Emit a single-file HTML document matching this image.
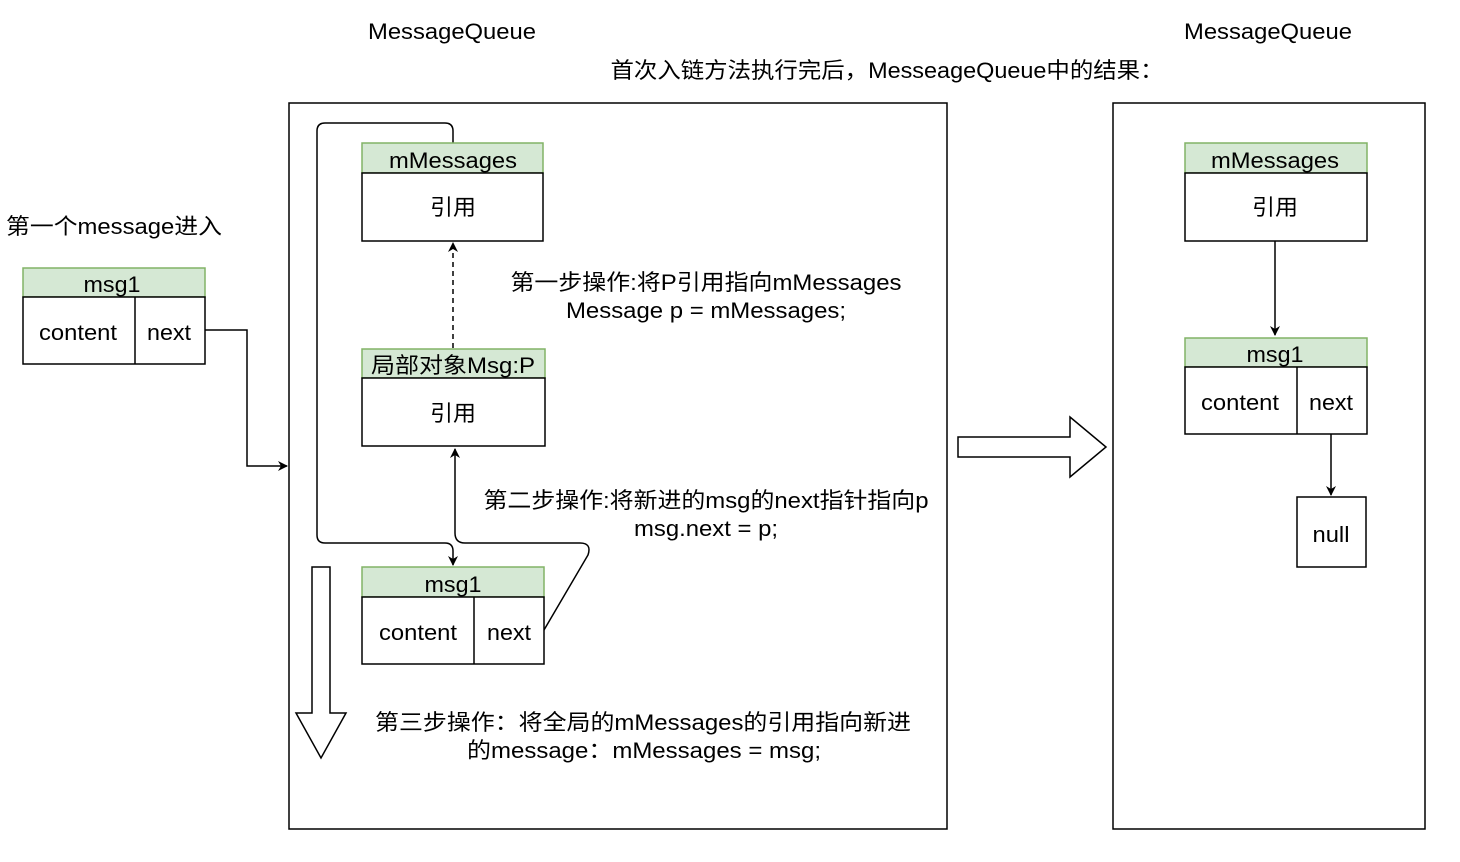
<!DOCTYPE html>
<html><head><meta charset="utf-8"><style>
html,body{margin:0;padding:0;background:#fff;}
svg{display:block;}
text{font-family:"Liberation Sans","Noto Sans CJK SC",sans-serif;font-size:22px;fill:#000;}
</style></head><body>
<svg width="1460" height="862" viewBox="0 0 1460 862" xmlns="http://www.w3.org/2000/svg">
<defs>
<marker id="ah" markerWidth="10" markerHeight="10" refX="9" refY="5" orient="auto" markerUnits="userSpaceOnUse">
<path d="M0,0 L10,5 L0,10 L3,5 Z" fill="#000"/>
</marker>
</defs>
<g text-anchor="middle" lengthAdjust="spacingAndGlyphs">
<text x="452" y="39" textLength="168" lengthAdjust="spacingAndGlyphs">MessageQueue</text>
<text x="1268" y="39" textLength="168" lengthAdjust="spacingAndGlyphs">MessageQueue</text>
<text x="887" y="78" textLength="553" lengthAdjust="spacingAndGlyphs">首次入链方法执行完后，MesseageQueue中的结果：</text>
</g>
<rect x="289" y="103" width="658" height="726" fill="none" stroke="#000" stroke-width="1.5"/>
<rect x="1113" y="103" width="312" height="726" fill="none" stroke="#000" stroke-width="1.5"/>

<text x="6" y="234" textLength="216" lengthAdjust="spacingAndGlyphs">第一个message进入</text>
<!-- left msg1 -->
<rect x="23" y="268" width="182" height="29" fill="#d5e8d4" stroke="#82b366" stroke-width="1.5"/>
<rect x="23" y="297" width="182" height="67" fill="#fff" stroke="#000" stroke-width="1.5"/>
<line x1="135" y1="297" x2="135" y2="364" stroke="#000" stroke-width="1.5"/>
<g text-anchor="middle">
<text x="112" y="292" textLength="57" lengthAdjust="spacingAndGlyphs">msg1</text>
<text x="78" y="340" textLength="78" lengthAdjust="spacingAndGlyphs">content</text>
<text x="169" y="340" textLength="44" lengthAdjust="spacingAndGlyphs">next</text>
</g>
<path d="M205,330 L247,330 L247,466 L287,466" fill="none" stroke="#000" stroke-width="1.5" marker-end="url(#ah)"/>

<path d="M453,143 L453,131 Q453,123 445,123 L325,123 Q317,123 317,131 L317,535 Q317,543 325,543 L445,543 Q453,543 453,551 L453,565" fill="none" stroke="#000" stroke-width="1.5" marker-end="url(#ah)"/>
<path d="M544,630 L588,555 Q592,543 580,543 L465,543 Q455,543 455,533 L455,449" fill="none" stroke="#000" stroke-width="1.5" marker-end="url(#ah)"/>

<rect x="362" y="143" width="181" height="30" fill="#d5e8d4" stroke="#82b366" stroke-width="1.5"/>
<rect x="362" y="173" width="181" height="68" fill="#fff" stroke="#000" stroke-width="1.5"/>
<g text-anchor="middle">
<text x="453" y="168" textLength="128" lengthAdjust="spacingAndGlyphs">mMessages</text>
<text x="453" y="215" textLength="46" lengthAdjust="spacingAndGlyphs">引用</text>
</g>
<line x1="453" y1="348" x2="453" y2="243" stroke="#000" stroke-width="1.5" stroke-dasharray="5,4" marker-end="url(#ah)"/>

<rect x="362" y="349" width="183" height="29" fill="#d5e8d4" stroke="#82b366" stroke-width="1.5"/>
<rect x="362" y="378" width="183" height="68" fill="#fff" stroke="#000" stroke-width="1.5"/>
<g text-anchor="middle">
<text x="453" y="373" textLength="164" lengthAdjust="spacingAndGlyphs">局部对象Msg:P</text>
<text x="453" y="421" textLength="46" lengthAdjust="spacingAndGlyphs">引用</text>
<text x="706" y="290" textLength="391" lengthAdjust="spacingAndGlyphs">第一步操作:将P引用指向mMessages</text>
<text x="706" y="318" textLength="280" lengthAdjust="spacingAndGlyphs">Message p = mMessages;</text>
<text x="706" y="508" textLength="445" lengthAdjust="spacingAndGlyphs">第二步操作:将新进的msg的next指针指向p</text>
<text x="706" y="536" textLength="144" lengthAdjust="spacingAndGlyphs">msg.next = p;</text>
<text x="643" y="730" textLength="536" lengthAdjust="spacingAndGlyphs">第三步操作：将全局的mMessages的引用指向新进</text>
<text x="644" y="758" textLength="354" lengthAdjust="spacingAndGlyphs">的message：mMessages = msg;</text>
</g>

<rect x="362" y="567" width="182" height="30" fill="#d5e8d4" stroke="#82b366" stroke-width="1.5"/>
<rect x="362" y="597" width="182" height="67" fill="#fff" stroke="#000" stroke-width="1.5"/>
<line x1="474" y1="597" x2="474" y2="664" stroke="#000" stroke-width="1.5"/>
<g text-anchor="middle">
<text x="453" y="592" textLength="57" lengthAdjust="spacingAndGlyphs">msg1</text>
<text x="418" y="640" textLength="78" lengthAdjust="spacingAndGlyphs">content</text>
<text x="509" y="640" textLength="44" lengthAdjust="spacingAndGlyphs">next</text>
</g>

<path d="M312,567 L330,567 L330,713 L346,713 L321,758 L296,713 L312,713 Z" fill="#fff" stroke="#000" stroke-width="1.5"/>
<path d="M958,437 L1070,437 L1070,417 L1106,447 L1070,477 L1070,457 L958,457 Z" fill="#fff" stroke="#000" stroke-width="1.5"/>

<rect x="1185" y="143" width="182" height="30" fill="#d5e8d4" stroke="#82b366" stroke-width="1.5"/>
<rect x="1185" y="173" width="182" height="68" fill="#fff" stroke="#000" stroke-width="1.5"/>
<line x1="1275" y1="241" x2="1275" y2="335" stroke="#000" stroke-width="1.5" marker-end="url(#ah)"/>
<rect x="1185" y="338" width="182" height="29" fill="#d5e8d4" stroke="#82b366" stroke-width="1.5"/>
<rect x="1185" y="367" width="182" height="67" fill="#fff" stroke="#000" stroke-width="1.5"/>
<line x1="1297" y1="367" x2="1297" y2="434" stroke="#000" stroke-width="1.5"/>
<line x1="1331" y1="434" x2="1331" y2="495" stroke="#000" stroke-width="1.5" marker-end="url(#ah)"/>
<rect x="1297" y="497" width="69" height="70" fill="#fff" stroke="#000" stroke-width="1.5"/>
<g text-anchor="middle">
<text x="1275" y="168" textLength="128" lengthAdjust="spacingAndGlyphs">mMessages</text>
<text x="1275" y="215" textLength="46" lengthAdjust="spacingAndGlyphs">引用</text>
<text x="1275" y="362" textLength="57" lengthAdjust="spacingAndGlyphs">msg1</text>
<text x="1240" y="410" textLength="78" lengthAdjust="spacingAndGlyphs">content</text>
<text x="1331" y="410" textLength="44" lengthAdjust="spacingAndGlyphs">next</text>
<text x="1331" y="542" textLength="37" lengthAdjust="spacingAndGlyphs">null</text>
</g>
</svg>
</body></html>
